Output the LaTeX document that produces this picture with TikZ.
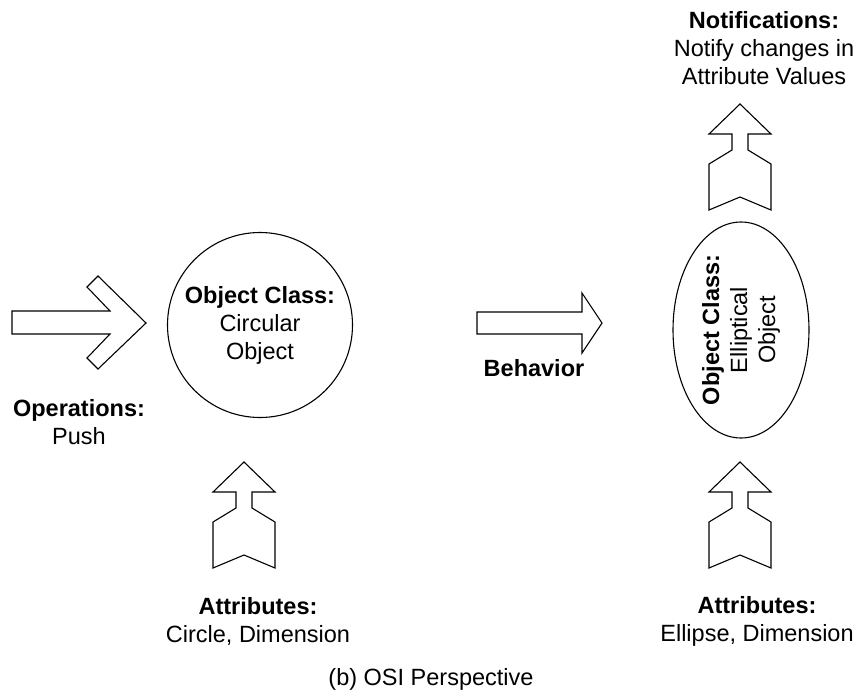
\documentclass[tikz,border=0pt]{standalone}
\usepackage{fontspec}
\setmainfont{Liberation Sans}
\usetikzlibrary{shapes.geometric}

\begin{document}
\begin{tikzpicture}[x=1pt, y=-1pt, line width=1.1pt,
    font=\fontsize{23.5}{28}\selectfont,
    upblock/.pic={
      \draw (0,0) -- (31,30) -- (8,30) -- (8,46) -- (31,60) -- (31,106)
        -- (0,93) -- (-31,106) -- (-31,60) -- (-8,46) -- (-8,30) -- (-31,30) -- cycle;
    }]
    \useasboundingbox (0,0) rectangle (859,691);

    % Nodes
    \node (circobj) [draw, circle, minimum size=185pt, inner sep=0pt, align=center] at (260,325)
        {\textbf{Object Class:}\\Circular\\Object};
    \node (ellobj) [draw, ellipse, rotate=90, minimum width=216pt, minimum height=136pt,
        inner sep=0pt, align=center] at (741,330)
        {\textbf{Object Class:}\\Elliptical\\Object};
    \node (oper) [align=center] at (79,422) {\textbf{Operations:}\\Push};
    \node (attrl) [align=center] at (258,621) {\textbf{Attributes:}\\Circle, Dimension};
    \node (attrr) [align=center] at (757,621) {\textbf{Attributes:}\\Ellipse, Dimension};
    \node (notif) [align=center] at (764,48) {\textbf{Notifications:}\\Notify changes in\\Attribute Values};
    \node (behav) at (534,368) {\textbf{Behavior}};
    \node (caption) at (431,679) {(b) OSI Perspective};

    % Block arrows
    \draw (12,311) -- (110,311) -- (87,287) -- (98,276) -- (146,323) -- (98,369)
        -- (87,358) -- (110,334) -- (12,334) -- cycle;
    \draw (477,312) -- (582,312) -- (582,293) -- (602,323) -- (582,353) -- (582,334)
        -- (477,334) -- cycle;
    \pic at (244,462) {upblock};
    \pic at (740,462) {upblock};
    \pic at (740,104) {upblock};
\end{tikzpicture}
\end{document}
